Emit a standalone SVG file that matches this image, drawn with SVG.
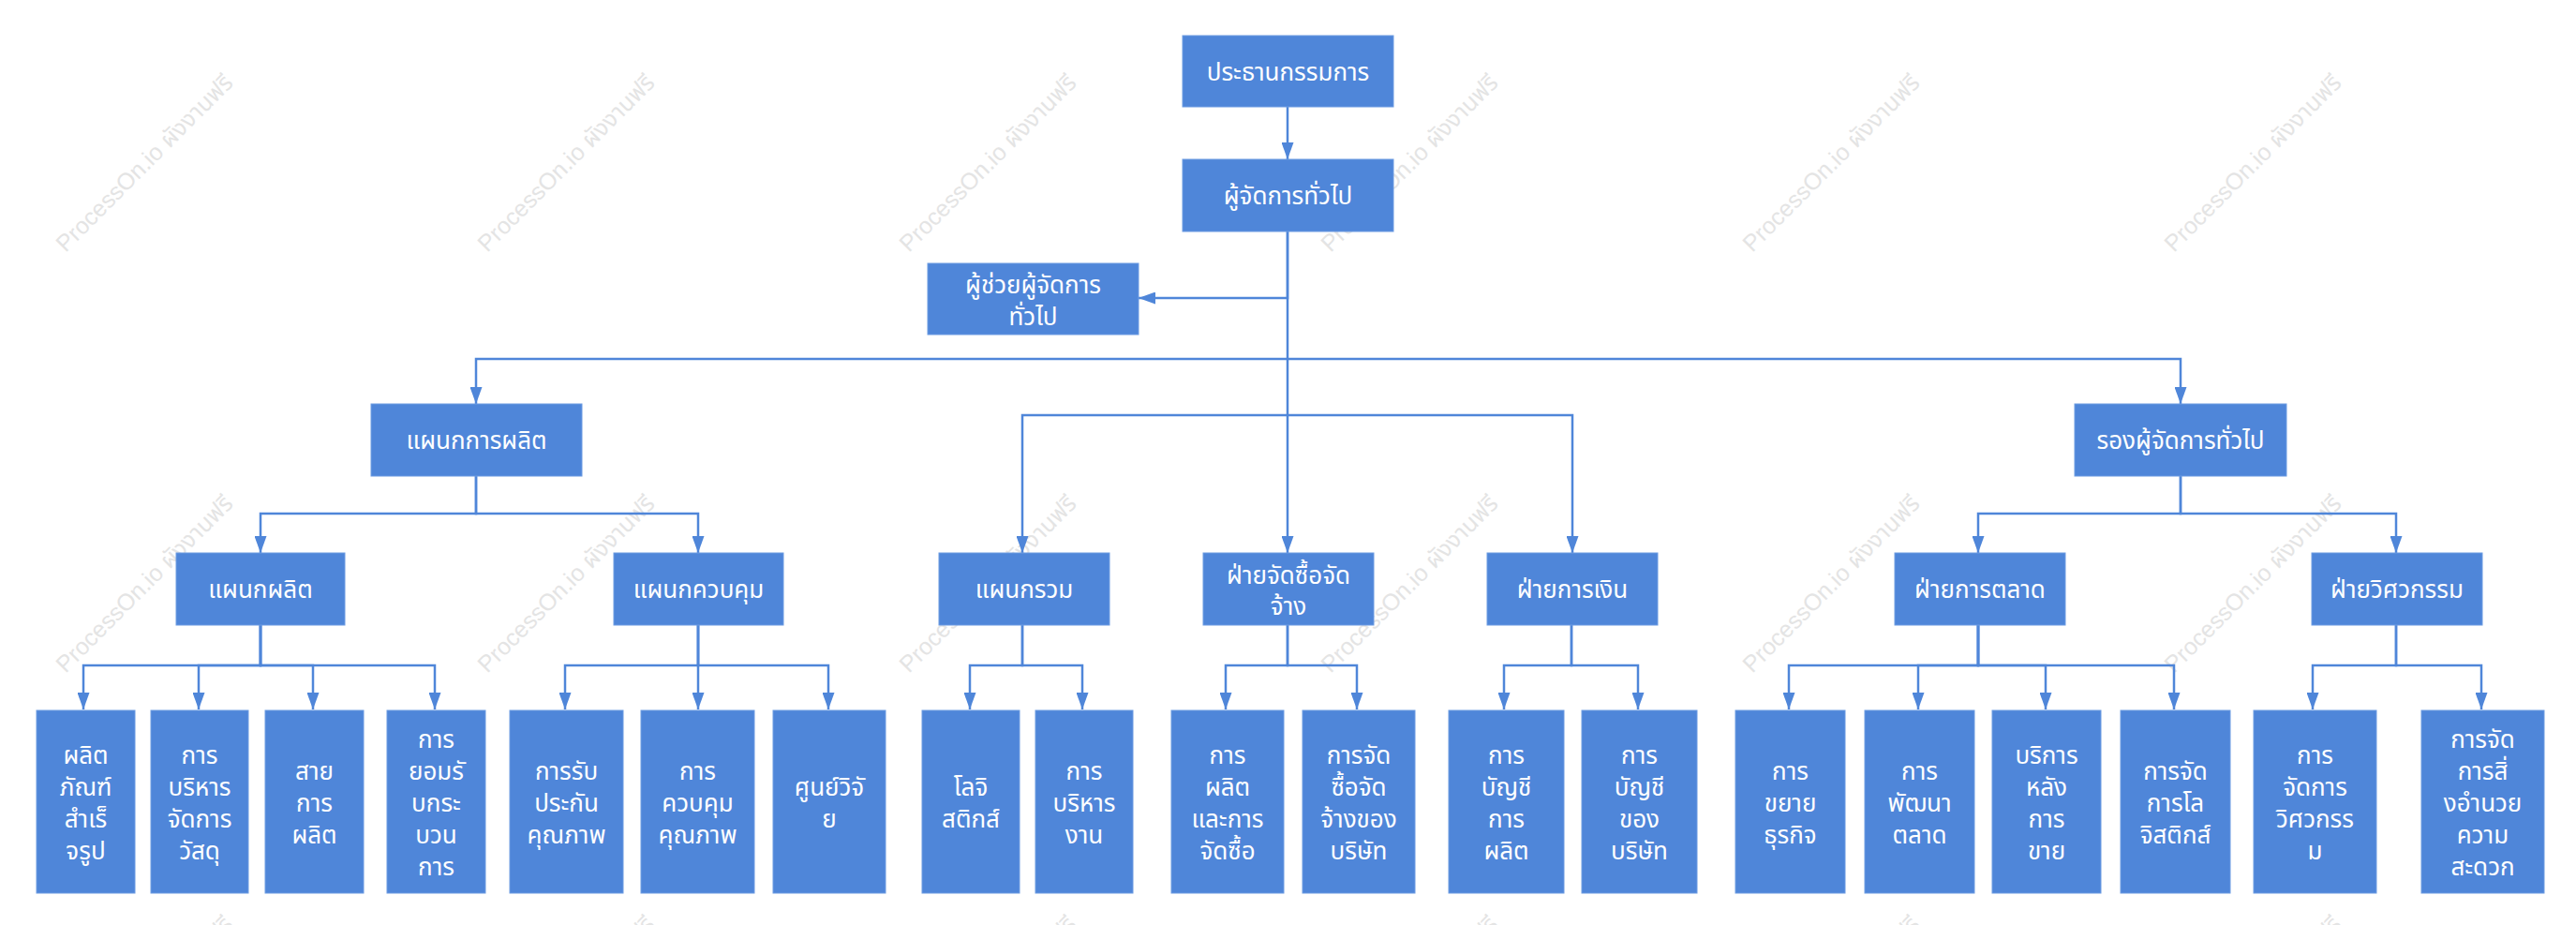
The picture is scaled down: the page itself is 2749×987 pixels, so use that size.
<svg xmlns="http://www.w3.org/2000/svg" width="2749" height="987" viewBox="0 0 2749 987">
<style>
.wm{font-family:"Liberation Sans","Noto Sans","Noto Sans Thai",sans-serif;font-size:25px;fill:#e4e4e4}
.box{fill:#4f86d9;stroke:#6c9be2;stroke-width:1}
.lbl{font-family:"Noto Sans","Noto Sans Thai",sans-serif;font-size:26px;fill:#ffffff;text-anchor:middle;dominant-baseline:central}
.cn{fill:none;stroke:#4f86d9;stroke-width:2.5;marker-end:url(#ah)}
</style>
<defs>
<marker id="ah" markerUnits="userSpaceOnUse" markerWidth="18" markerHeight="13" refX="18" refY="6.5" orient="auto" viewBox="0 0 18 13">
<path d="M0,0 L18,6.5 L0,13 Z" fill="#4f86d9"/>
</marker>
</defs>
<rect width="2749" height="987" fill="#ffffff"/>
<g id="watermarks">
<text class="wm" transform="translate(70,270) rotate(-45)">ProcessOn.io ผังงานฟรี</text>
<text class="wm" transform="translate(520,270) rotate(-45)">ProcessOn.io ผังงานฟรี</text>
<text class="wm" transform="translate(970,270) rotate(-45)">ProcessOn.io ผังงานฟรี</text>
<text class="wm" transform="translate(1420,270) rotate(-45)">ProcessOn.io ผังงานฟรี</text>
<text class="wm" transform="translate(1870,270) rotate(-45)">ProcessOn.io ผังงานฟรี</text>
<text class="wm" transform="translate(2320,270) rotate(-45)">ProcessOn.io ผังงานฟรี</text>
<text class="wm" transform="translate(70,719) rotate(-45)">ProcessOn.io ผังงานฟรี</text>
<text class="wm" transform="translate(520,719) rotate(-45)">ProcessOn.io ผังงานฟรี</text>
<text class="wm" transform="translate(970,719) rotate(-45)">ProcessOn.io ผังงานฟรี</text>
<text class="wm" transform="translate(1420,719) rotate(-45)">ProcessOn.io ผังงานฟรี</text>
<text class="wm" transform="translate(1870,719) rotate(-45)">ProcessOn.io ผังงานฟรี</text>
<text class="wm" transform="translate(2320,719) rotate(-45)">ProcessOn.io ผังงานฟรี</text>
<text class="wm" transform="translate(70,1168) rotate(-45)">ProcessOn.io ผังงานฟรี</text>
<text class="wm" transform="translate(520,1168) rotate(-45)">ProcessOn.io ผังงานฟรี</text>
<text class="wm" transform="translate(970,1168) rotate(-45)">ProcessOn.io ผังงานฟรี</text>
<text class="wm" transform="translate(1420,1168) rotate(-45)">ProcessOn.io ผังงานฟรี</text>
<text class="wm" transform="translate(1870,1168) rotate(-45)">ProcessOn.io ผังงานฟรี</text>
<text class="wm" transform="translate(2320,1168) rotate(-45)">ProcessOn.io ผังงานฟรี</text>
</g>
<g id="connectors">
<path class="cn" d="M1374,114 V170"/>
<path class="cn" d="M1374,247 V318 H1215"/>
<path class="cn" d="M1374,247 V590"/>
<path class="cn" d="M1374,383 H508 V431"/>
<path class="cn" d="M1374,383 H2327 V431"/>
<path class="cn" d="M1374,443 H1091 V590"/>
<path class="cn" d="M1374,443 H1678 V590"/>
<path class="cn" d="M508,508 V548 H278 V590"/>
<path class="cn" d="M508,508 V548 H745 V590"/>
<path class="cn" d="M2327,508 V548 H2111 V590"/>
<path class="cn" d="M2327,508 V548 H2557 V590"/>
<path class="cn" d="M278,667 V710 H89 V757"/>
<path class="cn" d="M278,667 V710 H212 V757"/>
<path class="cn" d="M278,667 V710 H334 V757"/>
<path class="cn" d="M278,667 V710 H464 V757"/>
<path class="cn" d="M745,667 V710 H603 V757"/>
<path class="cn" d="M745,667 V757"/>
<path class="cn" d="M745,667 V710 H884 V757"/>
<path class="cn" d="M1091,667 V710 H1035 V757"/>
<path class="cn" d="M1091,667 V710 H1155 V757"/>
<path class="cn" d="M1374,667 V710 H1308 V757"/>
<path class="cn" d="M1374,667 V710 H1448 V757"/>
<path class="cn" d="M1677,667 V710 H1605 V757"/>
<path class="cn" d="M1677,667 V710 H1748 V757"/>
<path class="cn" d="M2111,667 V710 H1909 V757"/>
<path class="cn" d="M2111,667 V710 H2047 V757"/>
<path class="cn" d="M2111,667 V710 H2183 V757"/>
<path class="cn" d="M2111,667 V710 H2320 V757"/>
<path class="cn" d="M2557,667 V710 H2468 V757"/>
<path class="cn" d="M2557,667 V710 H2648 V757"/>
</g>
<g id="n-chairman"><rect class="box" x="1262" y="38" width="225" height="76"/><text class="lbl" x="1374.5" y="76">ประธานกรรมการ</text></g>
<g id="n-gm"><rect class="box" x="1262" y="170" width="225" height="77"/><text class="lbl" x="1374.5" y="208">ผู้จัดการทั่วไป</text></g>
<g id="n-agm"><rect class="box" x="990" y="281" width="225" height="76"/><text class="lbl" x="1102.5"><tspan x="1102.5" y="303">ผู้ช่วยผู้จัดการ</tspan><tspan x="1102.5" y="337">ทั่วไป</tspan></text></g>
<g id="n-prod"><rect class="box" x="396" y="431" width="225" height="77"/><text class="lbl" x="508.5" y="469">แผนกการผลิต</text></g>
<g id="n-dgm"><rect class="box" x="2214" y="431" width="226" height="77"/><text class="lbl" x="2327" y="469">รองผู้จัดการทั่วไป</text></g>
<g id="n-proddept"><rect class="box" x="188" y="590" width="180" height="77"/><text class="lbl" x="278" y="628">แผนกผลิต</text></g>
<g id="n-control"><rect class="box" x="655" y="590" width="181" height="77"/><text class="lbl" x="745.5" y="628">แผนกควบคุม</text></g>
<g id="n-general"><rect class="box" x="1002" y="590" width="182" height="77"/><text class="lbl" x="1093" y="628">แผนกรวม</text></g>
<g id="n-purchase"><rect class="box" x="1284" y="590" width="182" height="77"/><text class="lbl" x="1375"><tspan x="1375" y="613">ฝ่ายจัดซื้อจัด</tspan><tspan x="1375" y="646">จ้าง</tspan></text></g>
<g id="n-finance"><rect class="box" x="1587" y="590" width="182" height="77"/><text class="lbl" x="1678" y="628">ฝ่ายการเงิน</text></g>
<g id="n-marketing"><rect class="box" x="2022" y="590" width="182" height="77"/><text class="lbl" x="2113" y="628">ฝ่ายการตลาด</text></g>
<g id="n-engineering"><rect class="box" x="2467" y="590" width="182" height="77"/><text class="lbl" x="2558" y="628">ฝ่ายวิศวกรรม</text></g>
<g id="n-b1"><rect class="box" x="39" y="758" width="105" height="195"/><text class="lbl"><tspan x="91.5" y="804.5">ผลิต</tspan><tspan x="91.5" y="838.5">ภัณฑ์</tspan><tspan x="91.5" y="872.5">สำเร็</tspan><tspan x="91.5" y="906.5">จรูป</tspan></text></g>
<g id="n-b2"><rect class="box" x="161" y="758" width="104" height="195"/><text class="lbl"><tspan x="213" y="804.5">การ</tspan><tspan x="213" y="838.5">บริหาร</tspan><tspan x="213" y="872.5">จัดการ</tspan><tspan x="213" y="906.5">วัสดุ</tspan></text></g>
<g id="n-b3"><rect class="box" x="283" y="758" width="105" height="195"/><text class="lbl"><tspan x="335.5" y="821.5">สาย</tspan><tspan x="335.5" y="855.5">การ</tspan><tspan x="335.5" y="889.5">ผลิต</tspan></text></g>
<g id="n-b4"><rect class="box" x="413" y="758" width="105" height="195"/><text class="lbl"><tspan x="465.5" y="787.5">การ</tspan><tspan x="465.5" y="821.5">ยอมรั</tspan><tspan x="465.5" y="855.5">บกระ</tspan><tspan x="465.5" y="889.5">บวน</tspan><tspan x="465.5" y="923.5">การ</tspan></text></g>
<g id="n-b5"><rect class="box" x="544" y="758" width="121" height="195"/><text class="lbl"><tspan x="604.5" y="821.5">การรับ</tspan><tspan x="604.5" y="855.5">ประกัน</tspan><tspan x="604.5" y="889.5">คุณภาพ</tspan></text></g>
<g id="n-b6"><rect class="box" x="684" y="758" width="121" height="195"/><text class="lbl"><tspan x="744.5" y="821.5">การ</tspan><tspan x="744.5" y="855.5">ควบคุม</tspan><tspan x="744.5" y="889.5">คุณภาพ</tspan></text></g>
<g id="n-b7"><rect class="box" x="825" y="758" width="120" height="195"/><text class="lbl"><tspan x="885" y="838.5">ศูนย์วิจั</tspan><tspan x="885" y="872.5">ย</tspan></text></g>
<g id="n-b8"><rect class="box" x="984" y="758" width="104" height="195"/><text class="lbl"><tspan x="1036" y="838.5">โลจิ</tspan><tspan x="1036" y="872.5">สติกส์</tspan></text></g>
<g id="n-b9"><rect class="box" x="1105" y="758" width="104" height="195"/><text class="lbl"><tspan x="1157" y="821.5">การ</tspan><tspan x="1157" y="855.5">บริหาร</tspan><tspan x="1157" y="889.5">งาน</tspan></text></g>
<g id="n-b10"><rect class="box" x="1250" y="758" width="120" height="195"/><text class="lbl"><tspan x="1310" y="804.5">การ</tspan><tspan x="1310" y="838.5">ผลิต</tspan><tspan x="1310" y="872.5">และการ</tspan><tspan x="1310" y="906.5">จัดซื้อ</tspan></text></g>
<g id="n-b11"><rect class="box" x="1390" y="758" width="120" height="195"/><text class="lbl"><tspan x="1450" y="804.5">การจัด</tspan><tspan x="1450" y="838.5">ซื้อจัด</tspan><tspan x="1450" y="872.5">จ้างของ</tspan><tspan x="1450" y="906.5">บริษัท</tspan></text></g>
<g id="n-b12"><rect class="box" x="1546" y="758" width="123" height="195"/><text class="lbl"><tspan x="1607.5" y="804.5">การ</tspan><tspan x="1607.5" y="838.5">บัญชี</tspan><tspan x="1607.5" y="872.5">การ</tspan><tspan x="1607.5" y="906.5">ผลิต</tspan></text></g>
<g id="n-b13"><rect class="box" x="1688" y="758" width="123" height="195"/><text class="lbl"><tspan x="1749.5" y="804.5">การ</tspan><tspan x="1749.5" y="838.5">บัญชี</tspan><tspan x="1749.5" y="872.5">ของ</tspan><tspan x="1749.5" y="906.5">บริษัท</tspan></text></g>
<g id="n-b14"><rect class="box" x="1852" y="758" width="117" height="195"/><text class="lbl"><tspan x="1910.5" y="821.5">การ</tspan><tspan x="1910.5" y="855.5">ขยาย</tspan><tspan x="1910.5" y="889.5">ธุรกิจ</tspan></text></g>
<g id="n-b15"><rect class="box" x="1990" y="758" width="117" height="195"/><text class="lbl"><tspan x="2048.5" y="821.5">การ</tspan><tspan x="2048.5" y="855.5">พัฒนา</tspan><tspan x="2048.5" y="889.5">ตลาด</tspan></text></g>
<g id="n-b16"><rect class="box" x="2126" y="758" width="116" height="195"/><text class="lbl"><tspan x="2184" y="804.5">บริการ</tspan><tspan x="2184" y="838.5">หลัง</tspan><tspan x="2184" y="872.5">การ</tspan><tspan x="2184" y="906.5">ขาย</tspan></text></g>
<g id="n-b17"><rect class="box" x="2263" y="758" width="117" height="195"/><text class="lbl"><tspan x="2321.5" y="821.5">การจัด</tspan><tspan x="2321.5" y="855.5">การโล</tspan><tspan x="2321.5" y="889.5">จิสติกส์</tspan></text></g>
<g id="n-b18"><rect class="box" x="2405" y="758" width="131" height="195"/><text class="lbl"><tspan x="2470.5" y="804.5">การ</tspan><tspan x="2470.5" y="838.5">จัดการ</tspan><tspan x="2470.5" y="872.5">วิศวกรร</tspan><tspan x="2470.5" y="906.5">ม</tspan></text></g>
<g id="n-b19"><rect class="box" x="2584" y="758" width="131" height="195"/><text class="lbl"><tspan x="2649.5" y="787.5">การจัด</tspan><tspan x="2649.5" y="821.5">การสิ่</tspan><tspan x="2649.5" y="855.5">งอำนวย</tspan><tspan x="2649.5" y="889.5">ความ</tspan><tspan x="2649.5" y="923.5">สะดวก</tspan></text></g>
</svg>
